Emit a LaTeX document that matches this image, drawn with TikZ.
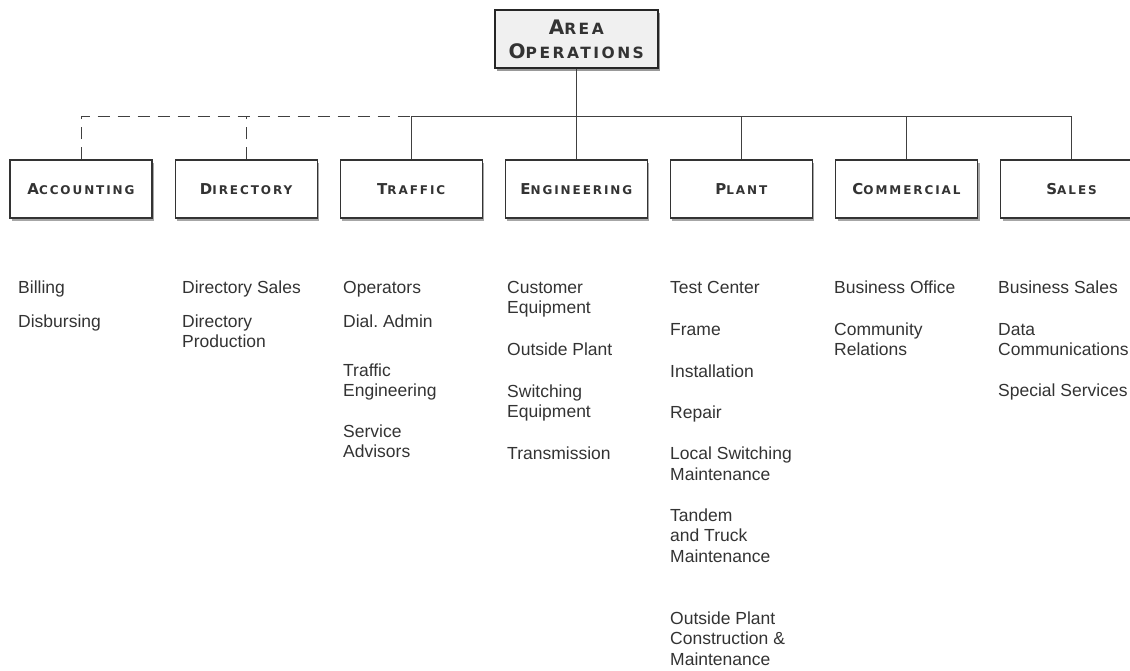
\documentclass[tikz,border=0pt]{standalone}
\usepackage{fontspec}
\setmainfont{Liberation Sans}
\newfontfamily\capsfont{DejaVu Sans}[LetterSpace=16]
\usepackage{tikz}
\usetikzlibrary{positioning, shadows}

% fake small caps: big first letter, smaller rest
\newcommand{\smcap}[2]{{\fontsize{15}{16}\selectfont #1}{\fontsize{12}{16}\selectfont #2}}
\newcommand{\smcaphead}[2]{{\fontsize{20}{24}\selectfont #1}{\fontsize{15.5}{24}\selectfont #2}}

\begin{document}
\begin{tikzpicture}[
  x=1pt, y=-1pt,
  dept/.style={draw=black!80, line width=1.1pt, fill=white, minimum width=142pt, minimum height=58pt,
    inner sep=2pt, font=\capsfont\bfseries, text=black!80,
    drop shadow={shadow xshift=2pt, shadow yshift=-3pt, opacity=0.35, fill=black}},
  head/.style={draw=black!85, line width=2pt, fill=gray!12, minimum width=163pt, minimum height=58pt,
    inner sep=2pt, align=center, font=\capsfont\bfseries\fontsize{15.5}{24}\selectfont, text=black!80,
    drop shadow={shadow xshift=2pt, shadow yshift=-3pt, opacity=0.4, fill=black}},
  item/.style={anchor=base west, inner sep=0pt, align=left, text=black!80,
    font=\fontsize{17.5}{20.5}\selectfont},
  link/.style={draw=black!75, line width=0.9pt},
  dashlink/.style={link, dash pattern=on 12pt off 8pt}
]
\useasboundingbox (0,0) rectangle (1130,670);

% department boxes
\node[dept] (acct) at (81,189) {\smcap{A}{CCOUNTING}};
\node[dept, right=22pt of acct] (dir) {\smcap{D}{IRECTORY}};
\node[dept, right=22pt of dir] (traf) {\smcap{T}{RAFFIC}};
\node[dept, right=22pt of traf] (eng) {\smcap{E}{NGINEERING}};
\node[dept, right=22pt of eng] (plant) {\smcap{P}{LANT}};
\node[dept, right=22pt of plant] (comm) {\smcap{C}{OMMERCIAL}};
\node[dept, right=22pt of comm] (sales) {\smcap{S}{ALES}};

\node[head, above=90pt of eng] (area) {\smcaphead{A}{REA}\\\smcaphead{O}{PERATIONS}};

% connectors
\coordinate (bus) at (0,116);
\draw[link] (area.south) -- (area.south |- bus);
\draw[link] (traf.north |- bus) -- (sales.north |- bus);
\draw[link] (traf.north) -- (traf.north |- bus);
\draw[link] (eng.north) -- (eng.north |- bus);
\draw[link] (plant.north) -- (plant.north |- bus);
\draw[link] (comm.north) -- (comm.north |- bus);
\draw[link] (sales.north) -- (sales.north |- bus);
\draw[dashlink] (acct.north) |- (traf.north |- bus);
\draw[dashlink] (dir.north) -- (dir.north |- bus);

% lists (y = baseline of last line)
% accounting
\node[item] (bill) at (18,293) {Billing};
\node[item] (disb) at (18,327) {Disbursing};
% directory
\node[item] (dsales) at (182,293) {Directory Sales};
\node[item] (dprod) at (182,347.5) {Directory\\Production};
% traffic
\node[item] (oper) at (343,293) {Operators};
\node[item] (dial) at (343,327) {Dial.\ Admin};
\node[item] (teng) at (343,396.5) {Traffic\\Engineering};
\node[item] (serv) at (343,457.5) {Service\\Advisors};
% engineering
\node[item] (cust) at (507,313.5) {Customer\\Equipment};
\node[item] (outp) at (507,355) {Outside Plant};
\node[item] (swit) at (507,417.5) {Switching\\Equipment};
\node[item] (trans) at (507,459) {Transmission};
% plant
\node[item] (test) at (670,293) {Test Center};
\node[item] (frame) at (670,335) {Frame};
\node[item] (inst) at (670,377) {Installation};
\node[item] (rep) at (670,418) {Repair};
\node[item] (lsw) at (670,480) {Local Switching\\Maintenance};
\node[item] (tand) at (670,562) {Tandem\\and Truck\\Maintenance};
\node[item] (opc) at (670,665) {Outside Plant\\Construction \&\\Maintenance};
% commercial
\node[item] (boff) at (834,293) {Business Office};
\node[item] (crel) at (834,355.5) {Community\\Relations};
% sales
\node[item] (bsal) at (998,293) {Business Sales};
\node[item] (data) at (998,355.5) {Data\\Communications};
\node[item] (spec) at (998,396) {Special Services};
\end{tikzpicture}
\end{document}
